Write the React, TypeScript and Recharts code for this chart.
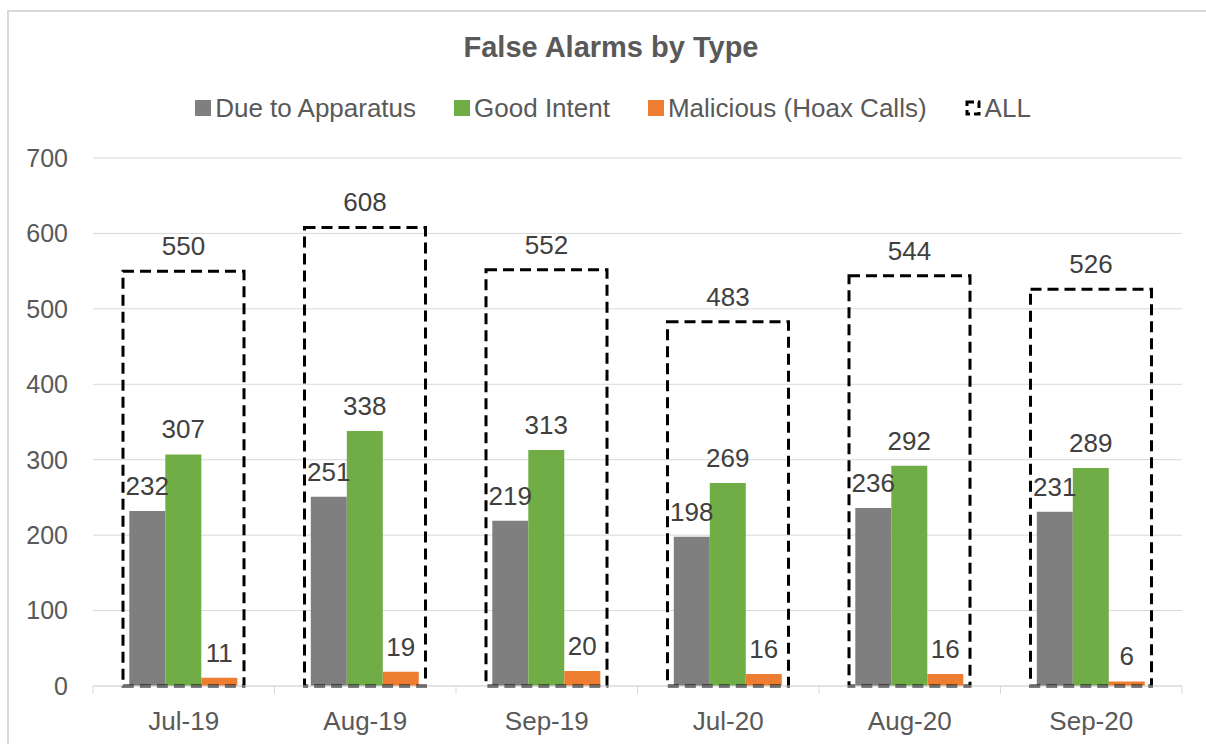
import { BarChart, Bar, XAxis, YAxis, CartesianGrid, LabelList } from 'recharts'

const months = ['Jul-19', 'Aug-19', 'Sep-19', 'Jul-20', 'Aug-20', 'Sep-20']
const apparatus = [232, 251, 219, 198, 236, 231]
const goodIntent = [307, 338, 313, 269, 292, 289]
const malicious = [11, 19, 20, 16, 16, 6]
const allTotals = [550, 608, 552, 483, 544, 526]
const yTicks = [0, 100, 200, 300, 400, 500, 600, 700]

const series = [
  { key: 'apparatus', name: 'Due to Apparatus', color: '#7f7f7f' },
  { key: 'goodIntent', name: 'Good Intent', color: '#70ad47' },
  { key: 'malicious', name: 'Malicious (Hoax Calls)', color: '#ed7d31' },
]

const data = months.map((month, i) => ({
  month,
  apparatus: apparatus[i],
  goodIntent: goodIntent[i],
  malicious: malicious[i],
  all: allTotals[i],
}))

const W = 1206
const H = 744
const Y_AXIS_W = 93
const X_AXIS_H = 58
const RIGHT = 24
const PLOT_W = W - Y_AXIS_W - RIGHT
const AXIS_Y = H - X_AXIS_H
const FONT = '"Liberation Sans", Arial, sans-serif'

// ticks sit between categories in the original, so draw them by hand
function XTick(props: any) {
  const { x, payload, index } = props
  const half = PLOT_W / months.length / 2
  return (
    <g>
      <line x1={x - half} x2={x - half} y1={AXIS_Y} y2={AXIS_Y + 8} stroke="#d9d9d9" />
      {index === months.length - 1 && (
        <line x1={x + half} x2={x + half} y1={AXIS_Y} y2={AXIS_Y + 8} stroke="#d9d9d9" />
      )}
      <text x={x} y={AXIS_Y + 44} textAnchor="middle" fontSize={26} fill="#595959">
        {payload.value}
      </text>
    </g>
  )
}

function LegendRow() {
  return (
    <div
      style={{
        position: 'absolute', top: 95, left: 0, width: 1226,
        display: 'flex', justifyContent: 'center', alignItems: 'center',
        gap: 38, fontSize: 26, lineHeight: '26px', color: '#595959',
      }}
    >
      {series.map(s => (
        <div key={s.key} style={{ display: 'flex', alignItems: 'center', gap: 4 }}>
          <span style={{ width: 16, height: 16, background: s.color, display: 'inline-block' }} />
          <span>{s.name}</span>
        </div>
      ))}
      <div style={{ display: 'flex', alignItems: 'center', gap: 4 }}>
        <svg width={16} height={16}>
          <rect x={2} y={2} width={12} height={12} fill="none" stroke="#000" strokeWidth={3} strokeDasharray="7 4" />
        </svg>
        <span>ALL</span>
      </div>
    </div>
  )
}

export default function App() {
  return (
    <div style={{ position: 'absolute', left: 0, top: 0, width: W, height: H, background: '#fff', fontFamily: FONT, overflow: 'hidden' }}>
      <div style={{ position: 'absolute', left: 7, top: 10, width: 1230, height: 760, border: '2px solid #d9d9d9' }} />
      <div
        style={{
          position: 'absolute', top: 33, left: 0, width: 1222, textAlign: 'center',
          fontSize: 29, lineHeight: '28px', fontWeight: 'bold', color: '#595959',
        }}
      >
        False Alarms by Type
      </div>
      <LegendRow />
      <div style={{ position: 'absolute', left: 0, top: 0 }}>
        <BarChart
          width={W}
          height={H}
          data={data}
          margin={{ top: 158, right: RIGHT, bottom: 0, left: 0 }}
          barCategoryGap="20%"
          barGap={0}
        >
          <CartesianGrid xAxisId="main" vertical={false} stroke="#d9d9d9" />
          <XAxis
            xAxisId="main"
            dataKey="month"
            height={X_AXIS_H}
            interval={0}
            tickLine={false}
            axisLine={{ stroke: '#d9d9d9' }}
            tick={<XTick />}
          />
          {/* second category axis just for the wide ALL outline; kept on top so it doesn't push the real axis down */}
          <XAxis xAxisId="all" dataKey="month" orientation="top" hide />
          <YAxis
            width={Y_AXIS_W}
            domain={[0, 700]}
            ticks={yTicks}
            interval={0}
            axisLine={false}
            tickLine={false}
            tickSize={0}
            tickMargin={25}
            tick={{ fontSize: 25, fill: '#595959' }}
          />
          {series.map(s => (
            <Bar key={s.key} xAxisId="main" dataKey={s.key} name={s.name} fill={s.color} isAnimationActive={false}>
              <LabelList dataKey={s.key} position="top" offset={16} fill="#404040" stroke="none" fontSize={26} />
            </Bar>
          ))}
          <Bar
            xAxisId="all"
            dataKey="all"
            name="ALL"
            barSize={121}
            fill="none"
            stroke="#000"
            strokeWidth={3}
            strokeDasharray="11 6"
            isAnimationActive={false}
          >
            <LabelList dataKey="all" position="top" offset={16} fill="#404040" stroke="none" fontSize={26} />
          </Bar>
        </BarChart>
      </div>
    </div>
  )
}
